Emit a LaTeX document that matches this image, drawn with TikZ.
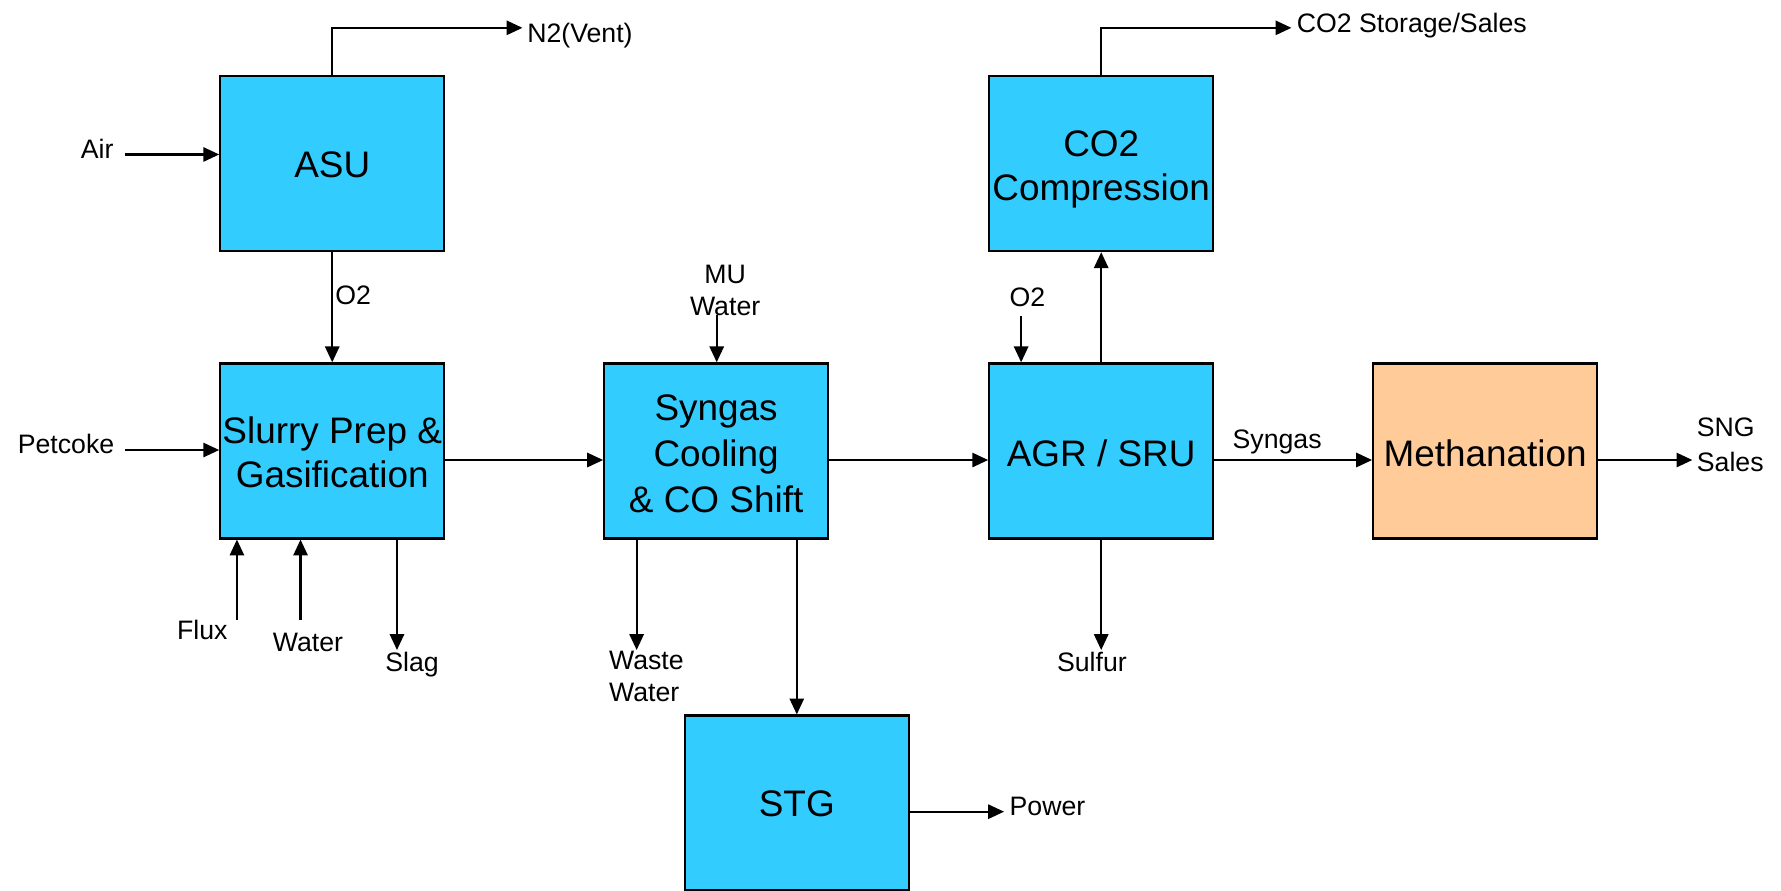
\documentclass[tikz,border=0pt]{standalone}
\usepackage{fontspec}
\setmainfont{Liberation Sans}
\usetikzlibrary{arrows.meta}
\definecolor{boxblue}{HTML}{33CCFF}
\definecolor{boxpeach}{HTML}{FFCC99}
\tikzset{
  unit/.style={draw=black, line width=2pt, fill=boxblue, minimum width=197pt, minimum height=154pt,
    inner sep=0pt, align=center, font=\fontsize{32.5}{39}\selectfont},
  oneline/.style={text height=#1, text depth=0pt},
  lbl/.style={inner sep=0pt, font=\fontsize{23.5}{28}\selectfont},
  arr/.style={line width=2pt, -{Triangle[length=14pt,width=12.5pt]}},
}
\begin{document}
\begin{tikzpicture}[x=1pt,y=-1pt]
\useasboundingbox (0,0) rectangle (1568,784);
% units
\node[unit, oneline=24pt] (asu)  at (292.5,144) {ASU};
\node[unit] (gas)  at (292.5,397) {\rule{0pt}{25.5pt}Slurry Prep \&\\Gasification};
\node[unit, font=\fontsize{32.5}{40.5}\selectfont] (cool) at (630.5,397) {\rule{0pt}{27pt}Syngas\\Cooling\\\& CO Shift};
\node[unit, oneline=24pt] (stg)  at (701.5,707) {STG};
\node[unit, oneline=27pt] (agr)  at (969.5,397) {AGR / SRU};
\node[unit] (co2)  at (969.5,144) {\rule{0pt}{32.5pt}CO2\\Compression};
\node[unit, oneline=27pt, fill=boxpeach] (meth) at (1307.5,397) {Methanation};
% labels
\node[lbl, anchor=base west] (air) at (71,139.7) {Air};
\node[lbl, anchor=base west] (n2) at (464,37.8) {N2(Vent)};
\node[lbl, anchor=base west] (o2a) at (295,268) {O2};
\node[lbl, anchor=base west] (pet) at (15.5,399.2) {Petcoke};
\node[lbl, anchor=base west] (flux) at (155.7,563) {Flux};
\node[lbl, anchor=base west] (water) at (240,573.5) {Water};
\node[lbl, anchor=base west] (slag) at (339,591.4) {Slag};
\node[lbl, anchor=north west, align=left] (waste) at (536,573.2) {Waste\\Water};
\node[lbl, anchor=north, align=center] (mu) at (638.4,233.5) {MU\\Water};
\node[lbl, anchor=base west] (o2b) at (888.7,270) {O2};
\node[lbl, anchor=base west] (co2s) at (1141.5,28.3) {CO2 Storage/Sales};
\node[lbl, anchor=base west] (syng) at (1085,394.6) {Syngas};
\node[lbl, anchor=north west, align=left] (sng) at (1493.7,367.5) {SNG\\[2.7pt]Sales};
\node[lbl, anchor=base west] (sulf) at (930.4,591.4) {Sulfur};
\node[lbl, anchor=base west] (pow) at (888.7,718.4) {Power};
% free ends
\coordinate (airS) at (110,136);
\coordinate (n2E) at (460,24.5);
\coordinate (petS) at (110,396.2);
\coordinate (fluxS) at (208.6,545.5);
\coordinate (watS) at (264.6,545.5);
\coordinate (slagE) at (349.5,572.3);
\coordinate (wwE) at (560.5,572.3);
\coordinate (muS) at (631,277.5);
\coordinate (o2S) at (899,278.3);
\coordinate (co2E) at (1137,24.5);
\coordinate (sngE) at (1490,405);
\coordinate (sulfE) at (969.5,572.3);
\coordinate (powE) at (884,714.6);
% connectors
\draw[arr] (airS) -- (airS -| asu.west);
\draw[arr] (asu.north) |- (n2E);
\draw[arr] (asu.south) -- (gas.north);
\draw[arr] (petS) -- (petS -| gas.west);
\draw[arr] ([yshift=-8pt]gas.east) -- ([yshift=-8pt]cool.west);
\draw[arr] (fluxS) -- (fluxS |- gas.south);
\draw[arr] (watS) -- (watS |- gas.south);
\draw[arr] (slagE |- gas.south) -- (slagE);
\draw[arr] (wwE |- cool.south) -- (wwE);
\draw[arr] (stg.north |- cool.south) -- (stg.north);
\draw[arr] (muS) -- (muS |- cool.north);
\draw[arr] ([yshift=-8pt]cool.east) -- ([yshift=-8pt]agr.west);
\draw[arr] (o2S) -- (o2S |- agr.north);
\draw[arr] (agr.north) -- (co2.south);
\draw[arr] (co2.north) |- (co2E);
\draw[arr] ([yshift=-8pt]agr.east) -- ([yshift=-8pt]meth.west);
\draw[arr] (sngE -| meth.east) -- (sngE);
\draw[arr] (agr.south) -- (sulfE);
\draw[arr] (powE -| stg.east) -- (powE);
\end{tikzpicture}
\end{document}
